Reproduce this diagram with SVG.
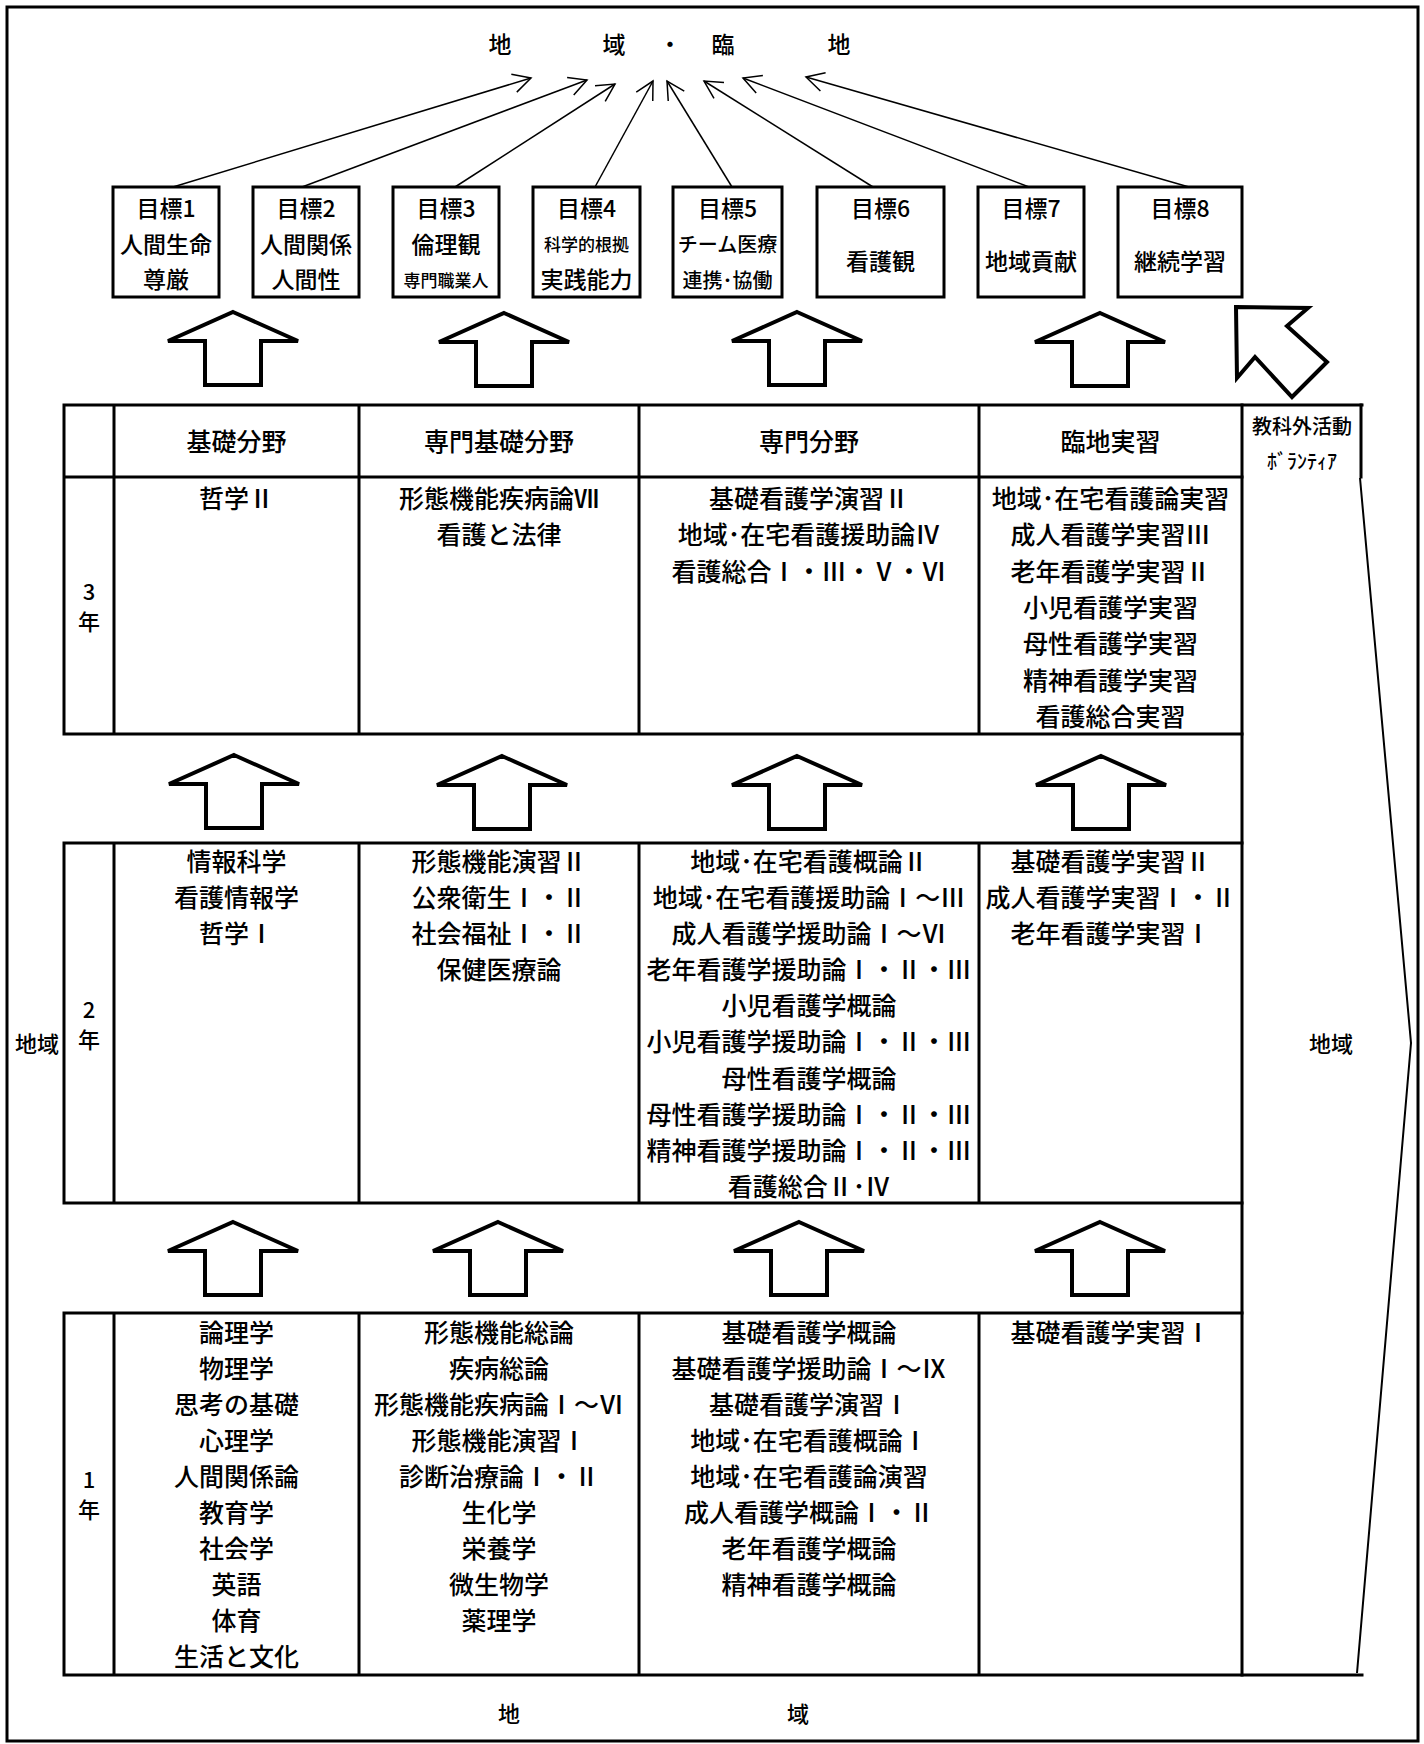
<svg xmlns="http://www.w3.org/2000/svg" width="1424" height="1744" viewBox="0 0 1424 1744">
<style>
text{font-family:"Noto Sans CJK JP","Noto Sans CJK SC",sans-serif;font-weight:500;fill:#000;text-anchor:middle;dominant-baseline:central}
.f25{font-size:25px}
.f26{font-size:26px}
.f23{font-size:23px}
.f22{font-size:22px}
.f20{font-size:20px}
.f18{font-size:17px}
.box{fill:#fff;stroke:#000;stroke-width:3}
.grid{fill:none;stroke:#000;stroke-width:3;stroke-linecap:square}
.conn{fill:none;stroke:#000;stroke-width:1.5}
.blk{fill:#fff;stroke:#000;stroke-width:4;stroke-linejoin:miter}
</style>
<defs>
<marker id="open" viewBox="0 -11 22 22" markerWidth="22" markerHeight="22" refX="20" refY="0" markerUnits="userSpaceOnUse" orient="auto" overflow="visible">
<path d="M2.3,-9.4 L20,0 L2.3,9.4" fill="none" stroke="#000" stroke-width="1.5"/>
</marker>
<path id="uparrow" d="M0,0 L65,29 L28,29 L28,73 L-28,73 L-28,29 L-65,29 Z" class="blk"/>
</defs>
<rect x="0" y="0" width="1424" height="1744" fill="#fff"/>
<rect x="7" y="7" width="1411" height="1734" fill="none" stroke="#000" stroke-width="3"/>

<g id="title">
<text class="f23" x="500" y="43">地</text>
<text class="f23" x="614" y="43">域</text>
<text class="f23" x="670" y="43">・</text>
<text class="f23" x="723" y="43">臨</text>
<text class="f23" x="839" y="43">地</text>
</g>

<g id="connectors">
<line class="conn" x1="173" y1="187" x2="531" y2="78" marker-end="url(#open)"/>
<line class="conn" x1="302" y1="187" x2="587" y2="80" marker-end="url(#open)"/>
<line class="conn" x1="455" y1="187" x2="615" y2="84" marker-end="url(#open)"/>
<line class="conn" x1="595" y1="187" x2="653" y2="81" marker-end="url(#open)"/>
<line class="conn" x1="732" y1="187" x2="667" y2="81" marker-end="url(#open)"/>
<line class="conn" x1="873" y1="187" x2="704" y2="81" marker-end="url(#open)"/>
<line class="conn" x1="1029" y1="187" x2="743" y2="78" marker-end="url(#open)"/>
<line class="conn" x1="1189" y1="187" x2="806" y2="77" marker-end="url(#open)"/>
</g>

<g id="goal1"><rect class="box" x="113" y="187" width="106" height="110"/>
<text class="f23" x="166" y="207">目標1</text><text class="f23" x="166" y="243">人間生命</text><text class="f23" x="166" y="278">尊厳</text></g>
<g id="goal2"><rect class="box" x="253" y="187" width="106" height="110"/>
<text class="f23" x="306" y="207">目標2</text><text class="f23" x="306" y="243">人間関係</text><text class="f23" x="306" y="278">人間性</text></g>
<g id="goal3"><rect class="box" x="393" y="187" width="106" height="110"/>
<text class="f23" x="446" y="207">目標3</text><text class="f23" x="446" y="243">倫理観</text><text class="f18" x="446" y="279">専門職業人</text></g>
<g id="goal4"><rect class="box" x="533" y="187" width="107" height="110"/>
<text class="f23" x="586.5" y="207">目標4</text><text class="f18" x="586.5" y="243">科学的根拠</text><text class="f23" x="586.5" y="278">実践能力</text></g>
<g id="goal5"><rect class="box" x="673" y="187" width="109" height="110"/>
<text class="f23" x="727.5" y="207">目標5</text><text class="f20" x="727.5" y="243">チーム医療</text><text class="f20" x="727.5" y="279">連携･協働</text></g>
<g id="goal6"><rect class="box" x="817" y="187" width="127" height="110"/>
<text class="f23" x="880.5" y="207">目標6</text><text class="f23" x="880.5" y="260">看護観</text></g>
<g id="goal7"><rect class="box" x="978" y="187" width="106" height="110"/>
<text class="f23" x="1031" y="207">目標7</text><text class="f23" x="1031" y="260">地域貢献</text></g>
<g id="goal8"><rect class="box" x="1118" y="187" width="124" height="110"/>
<text class="f23" x="1180" y="207">目標8</text><text class="f23" x="1180" y="260">継続学習</text></g>

<g id="block-arrows">
<use href="#uparrow" x="233" y="312"/>
<use href="#uparrow" x="504" y="313"/>
<use href="#uparrow" x="797" y="312"/>
<use href="#uparrow" x="1100" y="313"/>
<use href="#uparrow" x="234" y="755"/>
<use href="#uparrow" x="502" y="756"/>
<use href="#uparrow" x="797" y="756"/>
<use href="#uparrow" x="1101" y="756"/>
<use href="#uparrow" x="233" y="1222"/>
<use href="#uparrow" x="498" y="1222"/>
<use href="#uparrow" x="799" y="1222"/>
<use href="#uparrow" x="1100" y="1222"/>
<polygon class="blk" points="1236,307 1308,308 1287,326 1327,362 1292,397 1255,357 1237,378"/>
</g>

<g id="table">
<path class="grid" d="M64,405 H1362 M64,477 H1242 M64,405 V734 M114,405 V734 M359,405 V734 M639,405 V734 M979,405 V734 M64,734 H1242"/>
<path class="grid" d="M1242,405 V1675 M1361,405 V477"/>
<path class="grid" d="M64,843 H1242 M64,1203 H1242 M64,843 V1203 M114,843 V1203 M359,843 V1203 M639,843 V1203 M979,843 V1203"/>
<path class="grid" d="M64,1313 H1242 M64,1675 H1362 M64,1313 V1675 M114,1313 V1675 M359,1313 V1675 M639,1313 V1675 M979,1313 V1675"/>
<polyline points="1360,478 1411,1043 1357,1673" fill="none" stroke="#000" stroke-width="2"/>
</g>

<g id="header">
<text class="f25" x="236.5" y="440">基礎分野</text>
<text class="f25" x="499" y="440">専門基礎分野</text>
<text class="f25" x="809" y="440">専門分野</text>
<text class="f25" x="1110.5" y="440">臨地実習</text>
<text class="f20" x="1302" y="425">教科外活動</text>
<text class="f20" x="1302" y="460">ﾎﾞﾗﾝﾃｨｱ</text>
</g>

<g id="year-labels">
<text class="f22" x="89" y="590">3</text><text class="f22" x="89" y="620">年</text>
<text class="f22" x="89" y="1008">2</text><text class="f22" x="89" y="1038">年</text>
<text class="f22" x="89" y="1478">1</text><text class="f22" x="89" y="1508">年</text>
</g>

<g id="region-labels">
<text class="f22" x="37" y="1042">地域</text>
<text class="f22" x="1331" y="1042">地域</text>
<text class="f22" x="509" y="1712">地</text>
<text class="f22" x="798" y="1712">域</text>
</g>

<g id="year3">
<text class="f25" x="236.5" y="497">哲学Ⅱ</text>
<text class="f25" x="499" y="497">形態機能疾病論Ⅶ</text>
<text class="f25" x="499" y="533">看護と法律</text>
<text class="f25" x="809" y="497">基礎看護学演習Ⅱ</text>
<text class="f25" x="809" y="533">地域･在宅看護援助論Ⅳ</text>
<text class="f25" x="809" y="570">看護総合Ⅰ・Ⅲ・Ⅴ・Ⅵ</text>
<text class="f25" x="1110.5" y="497">地域･在宅看護論実習</text>
<text class="f25" x="1110.5" y="533">成人看護学実習Ⅲ</text>
<text class="f25" x="1110.5" y="570">老年看護学実習Ⅱ</text>
<text class="f25" x="1110.5" y="606">小児看護学実習</text>
<text class="f25" x="1110.5" y="642">母性看護学実習</text>
<text class="f25" x="1110.5" y="679">精神看護学実習</text>
<text class="f25" x="1110.5" y="715">看護総合実習</text>
</g>

<g id="year2">
<text class="f25" x="236.5" y="860">情報科学</text>
<text class="f25" x="236.5" y="896">看護情報学</text>
<text class="f25" x="236.5" y="932">哲学Ⅰ</text>
<text class="f25" x="499" y="860">形態機能演習Ⅱ</text>
<text class="f25" x="499" y="896">公衆衛生Ⅰ・Ⅱ</text>
<text class="f25" x="499" y="932">社会福祉Ⅰ・Ⅱ</text>
<text class="f25" x="499" y="968">保健医療論</text>
<text class="f25" x="809" y="860">地域･在宅看護概論Ⅱ</text>
<text class="f25" x="809" y="896">地域･在宅看護援助論Ⅰ～Ⅲ</text>
<text class="f25" x="809" y="932">成人看護学援助論Ⅰ～Ⅵ</text>
<text class="f25" x="809" y="968">老年看護学援助論Ⅰ・Ⅱ・Ⅲ</text>
<text class="f25" x="809" y="1004">小児看護学概論</text>
<text class="f25" x="809" y="1040">小児看護学援助論Ⅰ・Ⅱ・Ⅲ</text>
<text class="f25" x="809" y="1077">母性看護学概論</text>
<text class="f25" x="809" y="1113">母性看護学援助論Ⅰ・Ⅱ・Ⅲ</text>
<text class="f25" x="809" y="1149">精神看護学援助論Ⅰ・Ⅱ・Ⅲ</text>
<text class="f25" x="809" y="1185">看護総合Ⅱ･Ⅳ</text>
<text class="f25" x="1110.5" y="860">基礎看護学実習Ⅱ</text>
<text class="f25" x="1110.5" y="896">成人看護学実習Ⅰ・Ⅱ</text>
<text class="f25" x="1110.5" y="932">老年看護学実習Ⅰ</text>
</g>

<g id="year1">
<text class="f25" x="236.5" y="1331">論理学</text>
<text class="f25" x="236.5" y="1367">物理学</text>
<text class="f25" x="236.5" y="1403">思考の基礎</text>
<text class="f25" x="236.5" y="1439">心理学</text>
<text class="f25" x="236.5" y="1475">人間関係論</text>
<text class="f25" x="236.5" y="1511">教育学</text>
<text class="f25" x="236.5" y="1547">社会学</text>
<text class="f25" x="236.5" y="1583">英語</text>
<text class="f25" x="236.5" y="1619">体育</text>
<text class="f25" x="236.5" y="1655">生活と文化</text>
<text class="f25" x="499" y="1331">形態機能総論</text>
<text class="f25" x="499" y="1367">疾病総論</text>
<text class="f25" x="499" y="1403">形態機能疾病論Ⅰ～Ⅵ</text>
<text class="f25" x="499" y="1439">形態機能演習Ⅰ</text>
<text class="f25" x="499" y="1475">診断治療論Ⅰ・Ⅱ</text>
<text class="f25" x="499" y="1511">生化学</text>
<text class="f25" x="499" y="1547">栄養学</text>
<text class="f25" x="499" y="1583">微生物学</text>
<text class="f25" x="499" y="1619">薬理学</text>
<text class="f25" x="809" y="1331">基礎看護学概論</text>
<text class="f25" x="809" y="1367">基礎看護学援助論Ⅰ～Ⅸ</text>
<text class="f25" x="809" y="1403">基礎看護学演習Ⅰ</text>
<text class="f25" x="809" y="1439">地域･在宅看護概論Ⅰ</text>
<text class="f25" x="809" y="1475">地域･在宅看護論演習</text>
<text class="f25" x="809" y="1511">成人看護学概論Ⅰ・Ⅱ</text>
<text class="f25" x="809" y="1547">老年看護学概論</text>
<text class="f25" x="809" y="1583">精神看護学概論</text>
<text class="f25" x="1110.5" y="1331">基礎看護学実習Ⅰ</text>
</g>
</svg>
